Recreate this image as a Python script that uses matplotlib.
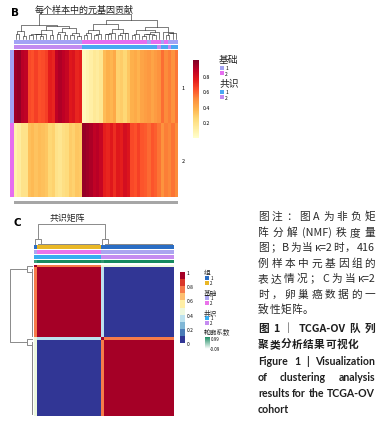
import re
import numpy as np
import matplotlib
matplotlib.use('Agg')
import matplotlib.pyplot as plt
from matplotlib.colors import LinearSegmentedColormap, to_rgb
from matplotlib.patches import Rectangle

plt.rcParams['font.family'] = ['Noto Sans CJK SC', 'DejaVu Sans']

# ---------------- data ----------------
# panel B: contribution of the two metagenes, one stripe per sample group
mg1 = [0.93, 0.95, 0.88, 0.86, 0.64, 0.62, 0.66, 0.62, 0.63, 0.66,
       0.74, 0.72, 0.86, 0.90, 0.87, 0.84, 0.76, 0.78, 0.72, 0.74,
       0.05, 0.08, 0.11, 0.15, 0.13, 0.17, 0.34, 0.38, 0.36, 0.40,
       0.27, 0.29, 0.25, 0.31, 0.38, 0.40, 0.37, 0.42, 0.44, 0.46,
       0.42, 0.45, 0.48, 0.56, 0.50, 0.53, 0.48, 0.54]
mg2 = [0.09, 0.13, 0.19, 0.19, 0.33, 0.35, 0.32, 0.34, 0.33, 0.31,
       0.25, 0.27, 0.19, 0.17, 0.21, 0.23, 0.29, 0.27, 0.31, 0.30,
       0.95, 0.93, 0.91, 0.86, 0.88, 0.84, 0.74, 0.72, 0.76, 0.70,
       0.76, 0.74, 0.80, 0.77, 0.64, 0.62, 0.66, 0.61, 0.60, 0.57,
       0.61, 0.59, 0.55, 0.48, 0.53, 0.51, 0.55, 0.50]
b_basis = [1] * 20 + [2] * 19 + [1] + [2] * 3 + [1] + [2] + [1] * 3
b_consensus = [2] * 20 + [1] * 22 + [2] + [1] * 2 + [2] + [1] * 2
b_row_basis = [1, 2]
b_row_labels = ['1', '2']
b_ticks = [0.2, 0.4, 0.6, 0.8]

# panel C: consensus matrix, 50 samples ordered by cluster
c_cluster = [1] * 24 + [2] * 26
c_within = [0.75] + [1.0] * 23 + [0.75] + [1.0] * 25
c_between = [0.4] + [0.0] * 23 + [0.3] + [0.0] * 25
c_group = [1] + [2] * 23 + [1] * 26
c_basis = [1] + [2] * 23 + [1] * 26
c_cons = [1] * 24 + [2] * 26
c_sil = [0.80] + [0.96] * 23 + [0.85] + [0.97] * 25
c_ticks = [0, 0.2, 0.4, 0.6, 0.8, 1]
c_ticklabels = ['0', '0.2', '0.4', '0.6', '0.8', '1']
sil_range = [-0.09, 0.99]

caption = ['图注：图 A 为非负矩',
           '阵分解 (NMF) 秩度量',
           '图；B 为当 κ=2 时，416',
           '例样本中元基因组的',
           '表达情况；C 为当 κ=2',
           '时，卵巢癌数据的一',
           '致性矩阵。',
           '图 1 ｜ TCGA-OV 队列',
           '聚类分析结果可视化',
           'Figure 1 | Visualization',
           'of clustering analysis',
           'results for the TCGA-OV',
           'cohort']

# ---------------- styles ----------------
B_BASIS = {1: '#a3a3f5', 2: '#e66ef0'}
B_CONS = {1: '#4aa8f2', 2: '#c28bf0'}
C_GROUP = {1: '#2a6dc4', 2: '#e9b726'}
C_BASIS = {1: '#aba5f0', 2: '#ea74ea'}
C_CONS = {1: '#38adf0', 2: '#c58cf0'}
green = LinearSegmentedColormap.from_list('sil', ['#ffffff', '#12885c'])
rdylbu10 = plt.get_cmap('RdYlBu_r', 10)

W, H = 385, 435
fig = plt.figure(figsize=(W / 100, H / 100), dpi=100)
ov = fig.add_axes([0, 0, 1, 1])
ov.set_axis_off()


def px_axes(x0, y0, x1, y1, off=True):
    ax = fig.add_axes([x0 / W, 1 - y1 / H, (x1 - x0) / W, (y1 - y0) / H])
    if off:
        ax.set_axis_off()
    return ax


def annot(ax, labels, colors, vertical=False):
    img = np.array([[to_rgb(colors[l]) for l in labels]])
    if vertical:
        img = img.transpose(1, 0, 2)
    ax.imshow(img, aspect='auto', interpolation='nearest')


def dendro_segments(D, pick_last=False):
    # complete linkage restricted to neighbouring clusters (keeps leaf order)
    clusters = [[i] for i in range(len(D))]
    pos = [(float(i), 0.0) for i in range(len(D))]
    segs = []
    while len(clusters) > 1:
        d = np.array([D[np.ix_(clusters[k], clusters[k + 1])].max()
                      for k in range(len(clusters) - 1)])
        k = len(d) - 1 - np.argmin(d[::-1]) if pick_last else np.argmin(d)
        (xa, ha), (xb, hb) = pos[k], pos[k + 1]
        segs.append(([xa, xa, xb, xb], [ha, d[k], d[k], hb]))
        clusters[k:k + 2] = [clusters[k] + clusters[k + 1]]
        pos[k:k + 2] = [((xa + xb) / 2, d[k])]
    return segs


def legend_block(x, y, title, colors, tsize, lsize, first, step, sw):
    ov.text(x - 1, y, title, fontsize=tsize, va='center', ha='left', color='#222222')
    for i, (lab, c) in enumerate(colors.items()):
        yy = y + first + step * i
        ov.add_patch(Rectangle((x, yy - sw / 2), sw, sw, color=c, lw=0))
        ov.text(x + sw + 1.5, yy, str(lab), fontsize=lsize, va='center', ha='left')


# ---------------- panel B ----------------
nb = len(mg1)
ov.text(11, 13, 'B', fontsize=7.5, fontweight='bold', family='DejaVu Sans', va='center')
ov.text(35, 10, '每个样本中的元基因贡献', fontsize=6.5, va='center', color='#222222')

X = np.array([mg1, mg2]).T
Db = np.sqrt(np.linalg.norm(X[:, None] - X[None], axis=2))
ax = px_axes(14, 15, 178, 40)
for xs, hs in dendro_segments(Db):
    ax.plot(xs, hs, color='#333333', lw=0.45, clip_on=False)
ax.set_xlim(-0.5, nb - 0.5)
ax.set_ylim(0, Db.max())

annot(px_axes(14, 41, 178, 45.3), b_basis, B_BASIS)
annot(px_axes(14, 46, 178, 50.3), b_consensus, B_CONS)
annot(px_axes(9.5, 51, 12.8, 198), b_row_basis, B_BASIS, vertical=True)

ax = px_axes(14, 51, 178, 198)
imB = ax.imshow(np.array([mg1, mg2]), aspect='auto', cmap='YlOrRd', vmin=0, vmax=1,
                interpolation='nearest')
for lab, yy in zip(b_row_labels, [88, 162]):
    ov.text(182, yy, lab, fontsize=4, va='center')

gb = px_axes(14, 201.5, 178, 205, off=False)
gb.set_facecolor('#a6a6a6')
gb.set_xticks([])
gb.set_yticks([])
for s in gb.spines.values():
    s.set_visible(False)

cax = px_axes(193, 61, 199, 139, off=False)
cb = fig.colorbar(imB, cax=cax, ticks=b_ticks)
cb.outline.set_visible(False)
cax.tick_params(labelsize=3.8, length=0, pad=2.5)

legend_block(220, 60, '基础', B_BASIS, 7.0, 3.6, 9, 5, 3.6)
legend_block(220, 84, '共识', B_CONS, 7.0, 3.6, 9, 5, 3.6)

# ---------------- panel C ----------------
nc = len(c_cluster)
cl = np.array(c_cluster)
w = np.array(c_within)
b = np.array(c_between)
M = np.where(cl[:, None] == cl[None, :], np.minimum(w[:, None], w[None, :]),
             np.maximum(b[:, None], b[None, :]))
np.fill_diagonal(M, 1.0)
Dc = 1 - M
segs_c = dendro_segments(Dc, pick_last=True)

ov.text(13, 223, 'C', fontsize=7.5, fontweight='bold', family='DejaVu Sans', va='center')
ov.text(50, 218.5, '共识矩阵', fontsize=6.4, va='center', color='#222222')

ax = px_axes(34, 225, 173, 245)
for xs, hs in segs_c:
    ax.plot(xs, hs, color='#8a8a8a', lw=0.7, clip_on=False)
ax.set_xlim(-0.5, nc - 0.5)
ax.set_ylim(0, 1)

ax = px_axes(10, 265.5, 32, 417)
for xs, hs in segs_c:
    ax.plot(hs, xs, color='#8a8a8a', lw=0.7, clip_on=False)
ax.set_xlim(1, 0)
ax.set_ylim(nc - 0.5, -0.5)

annot(px_axes(34, 246, 173, 249.8), c_group, C_GROUP)
annot(px_axes(34, 251, 173, 254.8), c_basis, C_BASIS)
annot(px_axes(34, 256, 173, 259.8), c_cons, C_CONS)
ax = px_axes(34, 261, 173, 264.5)
ax.imshow(np.array([c_sil]), aspect='auto', cmap=green, vmin=sil_range[0], vmax=sil_range[1],
          interpolation='nearest')

ax = px_axes(34, 265.5, 173, 417)
imC = ax.imshow(M, aspect='auto', cmap=rdylbu10, vmin=0, vmax=1, interpolation='nearest')

cax = px_axes(180, 273, 184.5, 344, off=False)
cb = fig.colorbar(imC, cax=cax, ticks=c_ticks)
cb.ax.set_yticklabels(c_ticklabels)
cb.outline.set_visible(False)
cax.tick_params(labelsize=3.5, length=0, pad=1.5)

legend_block(205, 273, '组', C_GROUP, 4.8, 3.2, 6, 5, 3.8)
legend_block(205, 293, '基础', C_BASIS, 4.8, 3.2, 6, 5, 3.8)
legend_block(205, 313, '共识', C_CONS, 4.8, 3.2, 6, 5, 3.8)
ov.text(204, 332.5, '轮廓系数', fontsize=4.8, va='center', color='#222222')
gax = px_axes(205, 337.5, 209.5, 350)
gax.imshow(np.linspace(sil_range[1], sil_range[0], 30)[:, None], aspect='auto', cmap=green,
           vmin=sil_range[0], vmax=sil_range[1])
ov.text(211, 339.5, f'{sil_range[1]:.2f}', fontsize=3.2, va='center')
ov.text(210, 349.5, f'{sil_range[0]:.2f}', fontsize=3.2, va='center')

# ---------------- caption ----------------
renderer = fig.canvas.get_renderer()
cap_y = [216, 232, 247, 263, 278, 294, 309, 328, 344, 361, 377, 393, 409]
cap_x1 = [375, 375, 375, 375, 375, 375, None, 375, None, 375, 375, 375, None]
for i, (line, yc, x1) in enumerate(zip(caption, cap_y, cap_x1)):
    if i < 7:
        kw = dict(fontsize=7.7, color='#2a2a2a')
    elif i < 9:
        kw = dict(fontsize=7.7, fontweight='bold', color='#1e1e1e')
    else:
        kw = dict(fontsize=7.6, fontweight='bold', color='#1e1e1e', family=['Lato', 'DejaVu Sans'])
    toks = re.findall(r"[A-Za-z0-9()=κ.\-|]+|\S", line)
    arts = [ov.text(0, yc + 3.8, t, va='baseline', ha='left', **kw) for t in toks]
    ws = [a.get_window_extent(renderer).width for a in arts]
    if x1 is None:
        gap = 0.6
    else:
        gap = (x1 - 258 - sum(ws)) / (len(toks) - 1)
    x = 258
    for a, wd in zip(arts, ws):
        a.set_x(x)
        x += wd + gap

ov.set_xlim(0, W)
ov.set_ylim(H, 0)
fig.savefig('out.png', dpi=100)
